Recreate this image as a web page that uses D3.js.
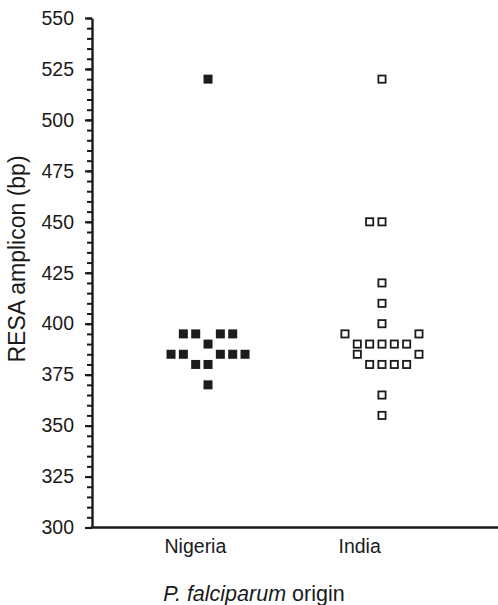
<!DOCTYPE html>
<html lang="en">
<head>
<meta charset="UTF-8">
<title>RESA amplicon</title>
<script src="https://d3js.org/d3.v7.min.js"></script>
<style>
  body { margin: 0; background: #fff; }
  svg text { font-family: "Liberation Sans", Arial, sans-serif; fill: #1a1a1a; }
</style>
</head>
<body>
<div id="chart"></div>
<script>
// chart data
const categories = ["Nigeria", "India"];
const yTicks = [300, 325, 350, 375, 400, 425, 450, 475, 500, 525, 550];

// Nigeria: value + column slot in the dot plot (filled squares)
const nigeriaValues = [520, 395, 395, 395, 395, 390, 385, 385, 385, 385, 385, 380, 380, 370];
const nigeriaSlots  = [0,   -2,  -1,   1,   2,   0,  -3,  -2,   1,   2,   3,  -1,   0,   0];

// India: value + column slot (open squares)
const indiaValues = [520, 450, 450, 420, 410, 400, 395, 395, 390, 390, 390, 390, 390, 385, 385, 380, 380, 380, 380, 365, 355];
const indiaSlots  = [0,   -1,   0,   0,   0,   0,  -3,   3,  -2,  -1,   0,   1,   2,  -2,   3,  -1,   0,   1,   2,   0,   0];

const width = 498, height = 605;
const plotLeft = 92, plotRight = 498, plotTop = 18, plotBottom = 527.5;

const svg = d3.select("#chart").append("svg")
    .attr("width", width)
    .attr("height", height);

const x = d3.scalePoint().domain(categories).range([plotLeft, plotRight]).padding(0.667);
const slot = d3.scaleLinear().domain([-3, 3]).range([-37, 37]);
const y = d3.scaleLinear().domain([300, 550]).range([plotBottom, plotTop]);

// minor ticks
svg.append("g")
    .attr("transform", `translate(${plotLeft},0)`)
    .call(d3.axisLeft(y).tickValues(d3.range(300, 551, 5)).tickSize(5).tickFormat(""))
    .call(g => g.select(".domain").remove())
    .call(g => g.selectAll("line").attr("stroke", "#1a1a1a").attr("stroke-width", 2));

// major ticks + labels
svg.append("g")
    .attr("transform", `translate(${plotLeft},0)`)
    .call(d3.axisLeft(y).tickValues(yTicks).tickSize(7).tickSizeOuter(0).tickPadding(11))
    .call(g => g.select(".domain").attr("stroke", "#1a1a1a").attr("stroke-width", 2.4))
    .call(g => g.selectAll("line").attr("stroke", "#1a1a1a").attr("stroke-width", 2.2))
    .call(g => g.selectAll("text").attr("font-size", 19.5).attr("fill", "#1a1a1a"));

// x axis
svg.append("g")
    .attr("transform", `translate(0,${plotBottom})`)
    .call(d3.axisBottom(x).tickSize(0).tickSizeOuter(0).tickPadding(12))
    .call(g => g.select(".domain").attr("stroke", "#1a1a1a").attr("stroke-width", 2.4)
        .attr("d", `M${plotLeft - 1.2},0H${plotRight}`))
    .call(g => g.selectAll("text").attr("font-size", 19.5).attr("fill", "#1a1a1a")
        .attr("text-anchor", "start").attr("dx", -44));

// points
const size = 9;
const nigeria = nigeriaValues.map((v, i) => ({ v, s: nigeriaSlots[i] }));
const india = indiaValues.map((v, i) => ({ v, s: indiaSlots[i] }));

svg.append("g").selectAll("rect")
    .data(nigeria)
    .join("rect")
    .attr("x", d => x("Nigeria") + slot(d.s) - size / 2)
    .attr("y", d => y(d.v) - size / 2)
    .attr("width", size)
    .attr("height", size)
    .attr("fill", "#1c1c1c");

const sw = 1.8;
svg.append("g").selectAll("rect")
    .data(india)
    .join("rect")
    .attr("x", d => x("India") + slot(d.s) - size / 2 + sw / 2)
    .attr("y", d => y(d.v) - size / 2 + sw / 2)
    .attr("width", size - sw)
    .attr("height", size - sw)
    .attr("fill", "#fff")
    .attr("stroke", "#1c1c1c")
    .attr("stroke-width", sw);

// axis titles
svg.append("text")
    .attr("transform", `translate(25,259) rotate(-90)`)
    .attr("text-anchor", "middle")
    .attr("font-size", 23)
    .text("RESA amplicon (bp)");

svg.append("text")
    .attr("x", 254)
    .attr("y", 601)
    .attr("text-anchor", "middle")
    .attr("font-size", 21.5)
    .call(t => {
        t.append("tspan").attr("font-style", "italic").text("P. falciparum");
        t.append("tspan").text(" origin");
    });
</script>
</body>
</html>
